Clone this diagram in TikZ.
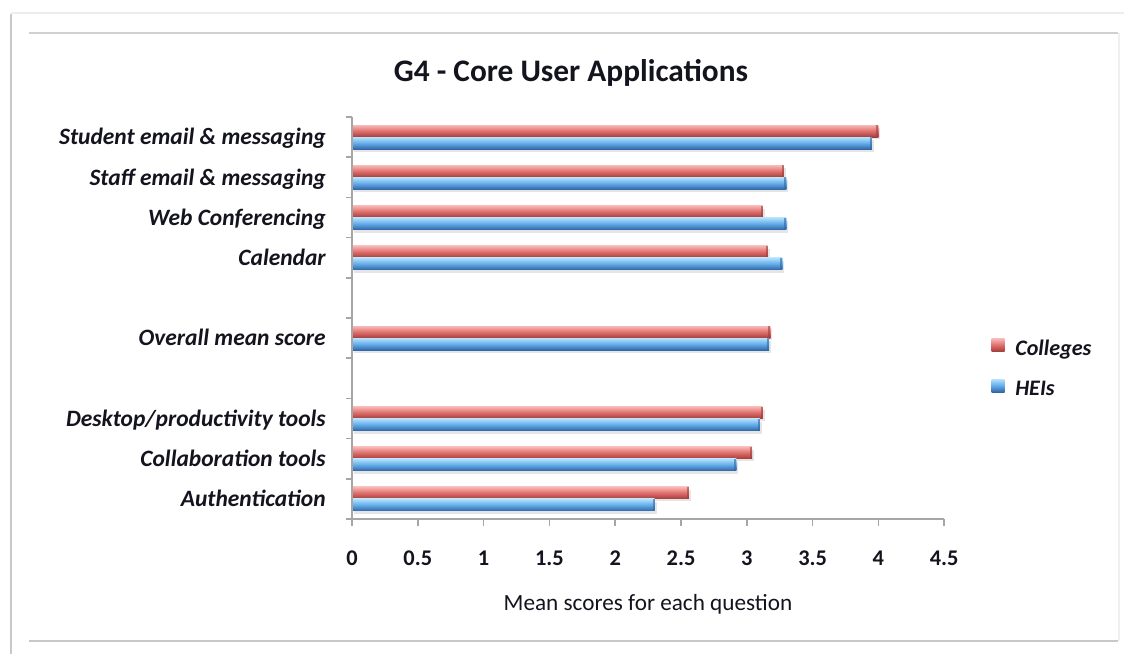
\documentclass[tikz,border=0pt]{standalone}
\usepackage{fontspec}
\setmainfont{Carlito}
\definecolor{rtop}{HTML}{F7B8B6}
\definecolor{rmid}{HTML}{DF6E6B}
\definecolor{rbot}{HTML}{A23C3A}
\definecolor{btop}{HTML}{B6E2FC}
\definecolor{bmid}{HTML}{63ADEA}
\definecolor{bbot}{HTML}{3366A6}
\definecolor{framegray}{HTML}{C8C8C8}
\definecolor{axisgray}{HTML}{A6A6A6}
\definecolor{txt}{HTML}{14141E}
\begin{document}
\begin{tikzpicture}[x=0.75pt,y=-0.75pt,
  catlabel/.style={anchor=base east,inner sep=0pt,text=txt,font=\fontsize{17.6}{20}\selectfont\bfseries\itshape},
  ticklabel/.style={anchor=base,inner sep=0pt,text=txt,font=\fontsize{16.8}{19}\selectfont\bfseries},
  leglabel/.style={anchor=base west,inner sep=0pt,text=txt,font=\fontsize{16.6}{19}\selectfont\bfseries\itshape},
  redbar/.style={top color=rtop,bottom color=rbot,middle color=rmid},
  bluebar/.style={top color=btop,bottom color=bbot,middle color=bmid},
  barshadow/.style={fill=black,opacity=0.10},
  axisline/.style={draw=axisgray,line width=1.2pt}]
\useasboundingbox (0,0) rectangle (1124,654);
\fill[white] (0,0) rectangle (1124,654);
% frame
\draw[draw=black!7,line width=1pt] (11,13) -- (1124,13);
\draw[draw=framegray,line width=2.2pt] (11,14) -- (11,654);
\draw[draw=black!6,line width=1pt] (1119,33) -- (1119,641);
\draw[draw=framegray!85,line width=1.6pt] (29,33) -- (1118,33);
\draw[draw=framegray,line width=1.8pt] (29,641) -- (1118,641);
% title
\node[anchor=base,inner sep=0pt,text=txt,font=\fontsize{23.5}{26}\selectfont\bfseries] (title) at (571,81) {G4 - Core User Applications};
% bars
\foreach \k/\r/\b in {0/4.00/3.95,1/3.28/3.30,2/3.12/3.30,3/3.16/3.27,5/3.18/3.17,7/3.12/3.10,8/3.04/2.92,9/2.56/2.30}{
  \pgfmathsetmacro\c{137.1+40.2*\k}
  \pgfmathsetmacro\re{352+131.6*\r}
  \pgfmathsetmacro\be{352+131.6*\b}
  \fill[barshadow] (354,\c-9) rectangle (\re+2,\c+2);
  \fill[barshadow] (354,\c+3) rectangle (\be+2,\c+15);
  \shade[redbar] (352,\c-12) rectangle (\re,\c);
  \fill[rbot,opacity=0.6] (\re-2,\c-12) rectangle (\re,\c);
  \shade[bluebar] (352,\c) rectangle (\be,\c+12);
  \fill[bbot,opacity=0.6] (\be-2,\c) rectangle (\be,\c+12);
}
% axes
\draw[axisline] (352,117) -- (352,519) -- (944,519);
\foreach \k in {0,...,10}{
  \draw[axisline] (346,117+40.2*\k) -- (352,117+40.2*\k);
}
\foreach \v in {0,0.5,...,4.5}{
  \draw[axisline] (352+131.6*\v,519) -- (352+131.6*\v,526);
}
% tick labels
\node[ticklabel] (t0) at (352,565) {0};
\node[ticklabel] (t05) at (417.8,565) {0.5};
\node[ticklabel] (t1) at (483.6,565) {1};
\node[ticklabel] (t15) at (549.4,565) {1.5};
\node[ticklabel] (t2) at (615.2,565) {2};
\node[ticklabel] (t25) at (681,565) {2.5};
\node[ticklabel] (t3) at (746.8,565) {3};
\node[ticklabel] (t35) at (812.6,565) {3.5};
\node[ticklabel] (t4) at (878.4,565) {4};
\node[ticklabel] (t45) at (944.2,565) {4.5};
\node[anchor=base,inner sep=0pt,text=txt,font=\fontsize{17.4}{20}\selectfont] (xtitle) at (648,610) {Mean scores for each question};
% category labels
\node[catlabel] (c0) at (326,144.8) {Student email \& messaging};
\node[catlabel] (c1) at (326,185.0) {Staff email \& messaging};
\node[catlabel] (c2) at (326,225.2) {Web Conferencing};
\node[catlabel] (c3) at (326,265.4) {Calendar};
\node[catlabel] (c5) at (326,345.8) {Overall mean score};
\node[catlabel] (c7) at (326,426.2) {Desktop/productivity tools};
\node[catlabel] (c8) at (326,466.4) {Collaboration tools};
\node[catlabel] (c9) at (326,506.6) {Authentication};
% legend
\shade[redbar] (991.5,338.5) rectangle (1004.5,351.5);
\shade[bluebar] (991.5,379) rectangle (1004.5,392);
\node[leglabel] (lc) at (1015,355) {Colleges};
\node[leglabel] (lh) at (1015,395) {HEIs};
\end{tikzpicture}
\end{document}
